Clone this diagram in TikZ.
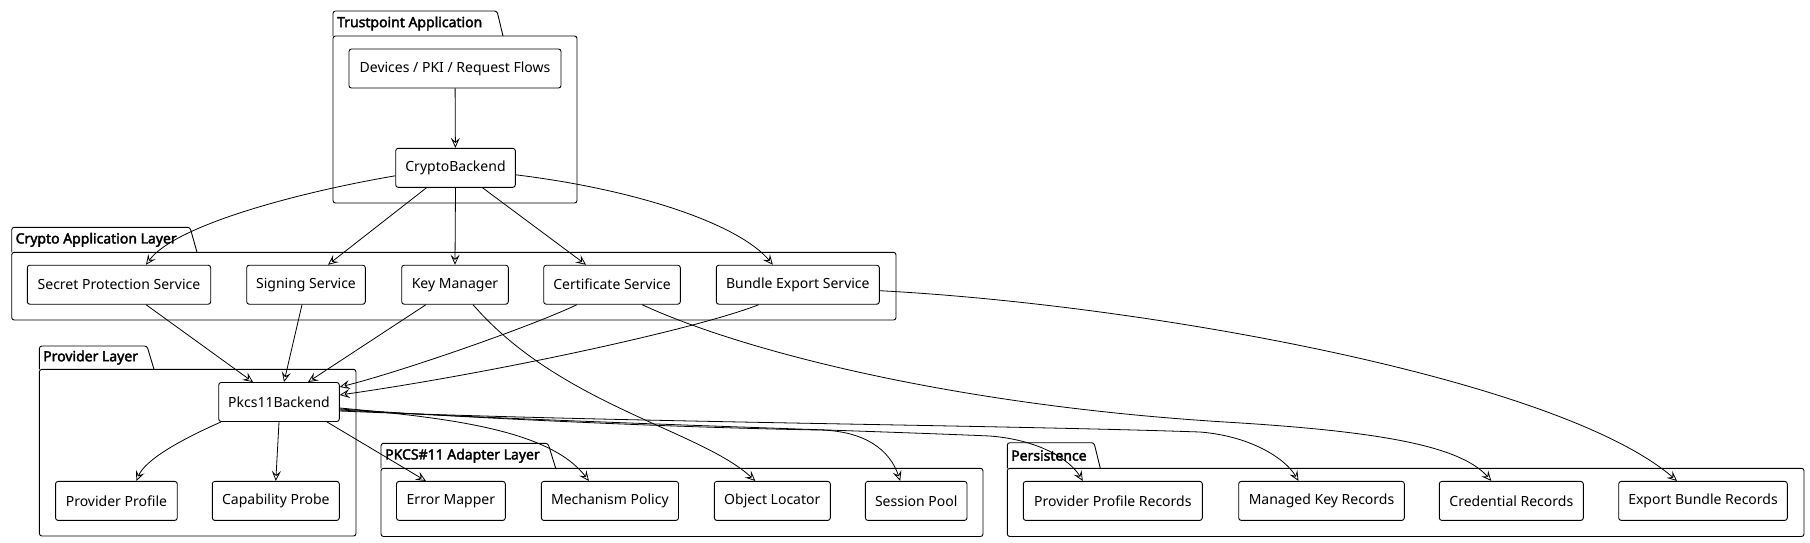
\documentclass[tikz,border=0pt]{standalone}
\usepackage{fontspec}
\setmainfont{Noto Sans}
\newfontfamily\pkgfont{Noto Sans}[FakeBold=2.5]
\usetikzlibrary{arrows.meta}

\begin{document}
\begin{tikzpicture}[x=1pt,y=-1pt,
    comp/.style={draw,rounded corners=2.5pt,line width=0.9pt,minimum height=39pt,inner sep=0pt,font=\fontsize{14}{16}\selectfont},
    pkgbox/.style={draw,rounded corners=2.5pt,line width=0.9pt},
    pkgname/.style={anchor=west,inner sep=0pt,font=\pkgfont\fontsize{14}{16}\selectfont},
    link/.style={line width=0.8pt,-{Stealth[open,length=10pt,width=9pt,inset=4pt]}}]
    \useasboundingbox (0,0) rectangle (1810,542);

    % packages
    \draw[pkgbox] (333,36) rectangle (577,203);
    \draw[pkgbox] (333,36) -- (333,11) -- (497,11) -- (503,36);
    \node[pkgname] (trustpoint) at (337,23.5) {Trustpoint Application};

    \draw[pkgbox] (11.7,252.3) rectangle (896,320);
    \draw[pkgbox] (11.7,252.3) -- (11.7,227.3) -- (190,227.3) -- (197,252.3);
    \node[pkgname] (appl) at (15.5,239.8) {Crypto Application Layer};

    \draw[pkgbox] (39.4,369.3) rectangle (356,536);
    \draw[pkgbox] (39.4,369.3) -- (39.4,346) -- (147,346) -- (154,369.3);
    \node[pkgname] (provl) at (43,357.6) {Provider Layer};

    \draw[pkgbox] (381,468.3) rectangle (983,536.5);
    \draw[pkgbox] (381,468.3) -- (381,443.3) -- (548,443.3) -- (555.7,468.3);
    \node[pkgname] (adapl) at (385,455.8) {PKCS\#11 Adapter Layer};

    \draw[pkgbox] (1007.3,468.3) rectangle (1804,536.5);
    \draw[pkgbox] (1007.3,468.3) -- (1007.3,442.7) -- (1094,442.7) -- (1100.3,468.3);
    \node[pkgname] (persl) at (1011,455.5) {Persistence};

    % components
    \node[comp,minimum width=212pt] (devices) at (455,68.5) {Devices / PKI / Request Flows};
    \node[comp,minimum width=119.6pt] (crypto) at (455.5,167.8) {CryptoBackend};

    \node[comp,minimum width=183.4pt] (secret) at (119,284.7) {Secret Protection Service};
    \node[comp,minimum width=118.6pt] (signing) at (306,284.7) {Signing Service};
    \node[comp,minimum width=106.6pt] (keymgr) at (455,284.7) {Key Manager};
    \node[comp,minimum width=136.6pt] (certsvc) at (612,284.7) {Certificate Service};
    \node[comp,minimum width=163pt] (bundlesvc) at (797.8,284.7) {Bundle Export Service};

    \node[comp,minimum width=120.6pt] (pkcs) at (279,402) {Pkcs11Backend};
    \node[comp,minimum width=121.7pt] (provprofile) at (116.4,500.9) {Provider Profile};
    \node[comp,minimum width=127pt] (capprobe) at (275.8,500.9) {Capability Probe};

    \node[comp,minimum width=108.8pt] (errmap) at (450.9,500.9) {Error Mapper};
    \node[comp,minimum width=137.2pt] (mechpol) at (609.9,500.9) {Mechanism Policy};
    \node[comp,minimum width=116pt] (objloc) at (772.3,500.9) {Object Locator};
    \node[comp,minimum width=101.6pt] (sesspool) at (916.2,500.9) {Session Pool};

    \node[comp,minimum width=179pt] (pprec) at (1112.8,500.9) {Provider Profile Records};
    \node[comp,minimum width=165.6pt] (mkrec) at (1321.5,500.9) {Managed Key Records};
    \node[comp,minimum width=144pt] (credrec) at (1511.3,500.9) {Credential Records};
    \node[comp,minimum width=168.6pt] (ebrec) at (1703,500.9) {Export Bundle Records};

    % links
    \draw[link] (devices) -- (crypto);
    \draw[link] ([yshift=-8pt]crypto.west) .. controls (300,192) and (175,225) .. ([xshift=27pt]secret.north);
    \draw[link] ([xshift=-29pt]crypto.south) -- ([xshift=22pt]signing.north);
    \draw[link] (crypto.south) -- (keymgr.north);
    \draw[link] ([xshift=27pt]crypto.south) -- ([xshift=-26pt]certsvc.north);
    \draw[link] ([yshift=-7pt]crypto.east) .. controls (640,190) and (740,225) .. ([xshift=-25pt]bundlesvc.north);

    \draw[link] ([xshift=27pt]secret.south) -- ([xshift=-26pt]pkcs.north);
    \draw[link] ([xshift=-4pt]signing.south) -- ([xshift=5pt]pkcs.north);
    \draw[link] ([xshift=-29pt]keymgr.south) -- ([xshift=29pt]pkcs.north);
    \draw[link] ([xshift=-35pt]certsvc.south) .. controls (530,327) and (400,372) .. ([yshift=15pt]pkcs.east);
    \draw[link] ([xshift=-39pt]bundlesvc.south) .. controls (700,328) and (500,372) .. ([yshift=7pt]pkcs.east);
    \draw[link] ([xshift=18pt]keymgr.south) .. controls (560,405) and (700,430) .. ([xshift=-17pt]objloc.north);
    \draw[link] ([xshift=30pt]certsvc.south) .. controls (740,350) and (950,405) .. (1225,422)
        .. controls (1375,431) and (1460,445) .. ([xshift=-20pt]credrec.north);
    \draw[link] ([yshift=-6pt]bundlesvc.east) .. controls (1150,305) and (1560,380) .. ([xshift=-26pt]ebrec.north);

    \draw[link] ([xshift=-58pt]pkcs.south) .. controls (180,440) and (145,460) .. ([xshift=20pt]provprofile.north);
    \draw[link] (pkcs.south) -- (capprobe.north);
    \draw[link] ([xshift=48pt]pkcs.south) -- ([xshift=-25pt]errmap.north);
    \draw[link] ([yshift=-6pt]pkcs.east) .. controls (450,418) and (550,430) .. ([xshift=-21pt]mechpol.north);
    \draw[link] ([yshift=-7pt]pkcs.east) .. controls (500,420) and (700,428) .. (820,430)
        .. controls (865,431) and (890,450) .. ([xshift=-16pt]sesspool.north);
    \draw[link] ([yshift=-8pt]pkcs.east) .. controls (550,422) and (850,430) .. (990,436)
        .. controls (1040,440) and (1070,460) .. ([xshift=-30pt]pprec.north);
    \draw[link] ([yshift=-9pt]pkcs.east) .. controls (600,422) and (1000,425) .. (1200,432)
        .. controls (1250,436) and (1285,458) .. ([xshift=-23pt]mkrec.north);
\end{tikzpicture}
\end{document}
